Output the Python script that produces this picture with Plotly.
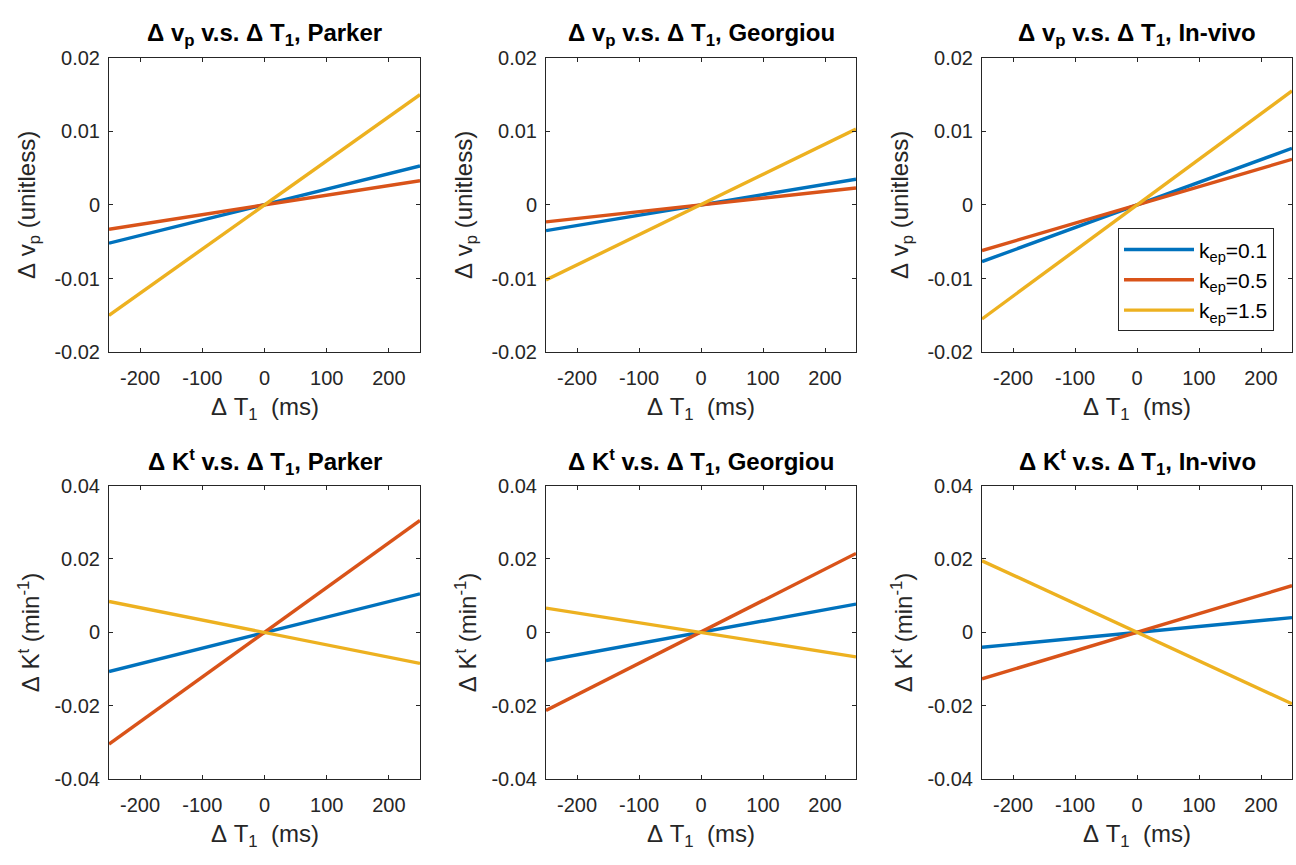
import plotly.graph_objects as go

# Data: line end values at dT1 = -250 and +250 (ms)
dT1 = [-250, 250]
kep_labels = ["k<sub>ep</sub>=0.1", "k<sub>ep</sub>=0.5", "k<sub>ep</sub>=1.5"]
colors = ["#0072BD", "#D95319", "#EDB120"]

vp_parker = [[-0.0052, 0.0053], [-0.0033, 0.0033], [-0.0150, 0.0150]]
vp_georgiou = [[-0.0035, 0.0035], [-0.0023, 0.0023], [-0.0102, 0.0103]]
vp_invivo = [[-0.0077, 0.0077], [-0.0062, 0.0062], [-0.0155, 0.0155]]
kt_parker = [[-0.0107, 0.0105], [-0.0305, 0.0305], [0.0084, -0.0085]]
kt_georgiou = [[-0.0077, 0.0077], [-0.0213, 0.0215], [0.0066, -0.0067]]
kt_invivo = [[-0.0041, 0.0040], [-0.0127, 0.0127], [0.0195, -0.0195]]

methods = ["Parker", "Georgiou", "In-vivo"]
top_data = [vp_parker, vp_georgiou, vp_invivo]
bot_data = [kt_parker, kt_georgiou, kt_invivo]

W, H = 1296, 865
FONT = "Liberation Sans, Arial, sans-serif"
TICK_SIZE = 20
LABEL_SIZE = 24
TITLE_SIZE = 24
SP = "\u00a0"

col_px = [(109, 420), (546, 856), (982, 1292)]
row_px = [(48, 350), (487, 788)]

def px_x(p):
    return p / W

def px_y(p):
    return 1 - p / H

fig = go.Figure()
annotations = []

for r in range(2):
    for c in range(3):
        idx = r * 3 + c + 1
        xa = "xaxis" if idx == 1 else f"xaxis{idx}"
        ya = "yaxis" if idx == 1 else f"yaxis{idx}"
        xref = "x" if idx == 1 else f"x{idx}"
        yref = "y" if idx == 1 else f"y{idx}"
        data = top_data[c] if r == 0 else bot_data[c]
        for k in range(3):
            fig.add_trace(go.Scatter(
                x=dT1, y=data[k], mode="lines",
                line=dict(color=colors[k], width=3.4),
                name=kep_labels[k],
                showlegend=(r == 0 and c == 2),
                xaxis=xref, yaxis=yref,
            ))
        x0, x1 = col_px[c]
        y0, y1 = row_px[r]
        if r == 0:
            yr = [-0.02, 0.02]
            yv = [-0.02, -0.01, 0, 0.01, 0.02]
            yt = ["-0.02", "-0.01", "0", "0.01", "0.02"]
        else:
            yr = [-0.04, 0.04]
            yv = [-0.04, -0.02, 0, 0.02, 0.04]
            yt = ["-0.04", "-0.02", "0", "0.02", "0.04"]
        axcommon = dict(showline=True, linecolor="#262626", linewidth=1, mirror="ticks",
                        ticks="inside", ticklen=4, tickcolor="#262626", showgrid=False,
                        zeroline=False, tickfont=dict(family=FONT, size=TICK_SIZE, color="#262626"))
        fig.layout[xa] = dict(domain=[px_x(x0), px_x(x1)], range=[-250, 250],
                              tickvals=[-200, -100, 0, 100, 200],
                              ticktext=["-200", "-100", "0", "100", "200"],
                              ticklabelstandoff=8,
                              anchor=yref, **axcommon)
        fig.layout[ya] = dict(domain=[px_y(y1), px_y(y0)], range=yr,
                              tickvals=yv, ticktext=yt, ticklabelstandoff=4,
                              anchor=xref, **axcommon)
        cx = (x0 + x1) / 2
        cy = (y0 + y1) / 2
        if r == 0:
            title = f"<b>Δ{SP}v<sub>p</sub> v.s. Δ{SP}T<sub>1</sub>, {methods[c]}</b>"
            ylab = f"Δ{SP}v<sub>p</sub>{SP}(unitless)"
        else:
            title = f"<b>Δ{SP}K<sup>t</sup> v.s. Δ{SP}T<sub>1</sub>, {methods[c]}</b>"
            ylab = f"Δ{SP}K<sup>t</sup>{SP}(min<sup>-1</sup>)"
        annotations.append(dict(text=title, x=px_x(cx), y=px_y(y0 - 24), xref="paper", yref="paper",
                                xanchor="center", yanchor="middle", showarrow=False,
                                font=dict(family=FONT, size=TITLE_SIZE, color="#000000")))
        annotations.append(dict(text=f"Δ{SP}T<sub>1</sub>{SP}{SP}(ms)", x=px_x(cx), y=px_y(y1 + 58),
                                xref="paper", yref="paper", xanchor="center", yanchor="middle",
                                showarrow=False, font=dict(family=FONT, size=LABEL_SIZE, color="#262626")))
        annotations.append(dict(text=ylab, x=px_x(x0 - 80), y=px_y(cy), xref="paper", yref="paper",
                                xanchor="center", yanchor="middle", textangle=-90, showarrow=False,
                                font=dict(family=FONT, size=LABEL_SIZE, color="#262626")))

fig.update_layout(
    width=W, height=H, autosize=False,
    margin=dict(l=0, r=0, t=0, b=0),
    paper_bgcolor="white", plot_bgcolor="white",
    annotations=annotations,
    legend=dict(x=px_x(1118), y=px_y(223), xanchor="left", yanchor="top",
                bgcolor="white", bordercolor="#262626", borderwidth=1,
                font=dict(family=FONT, size=21, color="#000000"),
                itemwidth=70, tracegroupgap=0),
)

fig.write_html("out.html", config={"displayModeBar": False},
               post_script="document.body.style.margin='0';document.body.style.overflow='hidden';")
